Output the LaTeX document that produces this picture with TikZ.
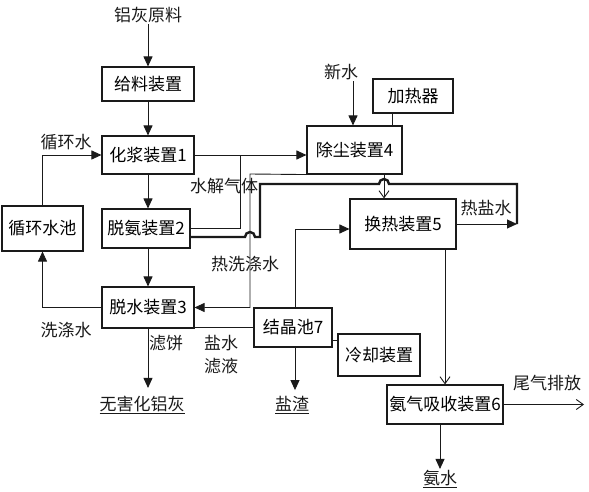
\documentclass[tikz,border=0pt]{standalone}
\usepackage{fontspec}
\setmainfont{Noto Sans CJK SC}
\usepackage{tikz}
\usetikzlibrary{positioning,calc,arrows.meta}
\definecolor{ink}{HTML}{1A1A1A}
\tikzset{
  every node/.style={font=\fontsize{17}{23}\selectfont},
  % --- nodes
  box/.style   = {draw=ink, line width=1.1pt, inner sep=2pt, align=center},
  lbl/.style   = {inner sep=1pt, text=ink, align=center},
  % --- edges
  e/.style     = {-{Triangle[length=10pt,width=9pt]}, line width=0.9pt, draw=ink},
  eopen/.style = {-{Straight Barb[length=7pt,width=10pt]}, line width=0.9pt, draw=ink},
  ethin/.style = {line width=0.9pt, draw=ink},
  ethick/.style= {line width=2.4pt, draw=ink},
}
\begin{document}
\begin{tikzpicture}[x=1pt,y=1pt]
  \useasboundingbox (0,0) rectangle (589,-492);
  % boxes
  \node[box, minimum width=92pt, minimum height=34pt] (feed)    at (148,-84)    {给料装置};
  \node[box, minimum width=92pt, minimum height=38pt] (slurry)  at (148,-155)   {化浆装置1};
  \node[box, minimum width=81pt, minimum height=45pt] (pool)    at (42.5,-228.5){循环水池};
  \node[box, minimum width=88pt, minimum height=39pt] (deamm)   at (146,-228.5) {脱氨装置2};
  \node[box, minimum width=92pt, minimum height=41pt] (dewater) at (148,-307.5) {脱水装置3};
  \node[box, minimum width=95pt, minimum height=48pt] (dust)    at (354.5,-150) {除尘装置4};
  \node[box, minimum width=80pt, minimum height=34pt] (heater)  at (413,-96)    {加热器};
  \node[box, minimum width=106pt,minimum height=50pt] (hex)     at (403,-224)   {换热装置5};
  \node[box, minimum width=78pt, minimum height=39pt] (cryst)   at (293,-327.5) {结晶池7};
  \node[box, minimum width=82pt, minimum height=42pt] (cool)    at (379,-355)   {冷却装置};
  \node[box, minimum width=116pt,minimum height=39pt] (absorb)  at (445,-404.5) {氨气吸收装置6};
  % labels
  \node[lbl] (raw)   at (148,-15)  {铝灰原料};
  \node[lbl] (water) at (341,-72)  {新水};
  \node[lbl] (recyc) at (66,-142)  {循环水};
  \node[lbl] (gas)   at (224,-186) {水解气体};
  \node[lbl] (hwash) at (245,-264) {热洗涤水};
  \node[lbl] (hsalt) at (486,-208) {热盐水};
  \node[lbl] (wash)  at (66,-330)  {洗涤水};
  \node[lbl] (cake)  at (166,-343) {滤饼};
  \node[lbl] (brine) at (221,-355) {盐水\\滤液};
  \node[lbl] (tailg) at (547,-383) {尾气排放};
  \node[lbl] (ash)   at (142,-405) {\underline{无害化铝灰}};
  \node[lbl] (salt)  at (292,-405) {\underline{盐渣}};
  \node[lbl] (aq)    at (440,-479) {\underline{氨水}};
  \coordinate (t1)   at (260,-237);
  \coordinate (t2)   at (260,-184);
  \coordinate (t3)   at (517,-184);
  \coordinate (j1)   at (240,-155);
  \coordinate (k1)   at (250,-174);
  \coordinate (tail) at (584,-404.5);
  % main line
  \draw[e] (raw) -- (feed);
  \draw[e] (feed) -- (slurry);
  \draw[e] (slurry.south) -- (slurry.south |- deamm.north);
  \draw[e] (slurry.south |- deamm.south) -- (dewater.north);
  \draw[e, shorten >=7pt] (dewater.south) -- (dewater.south |- ash.north);
  \draw[e] (pool.north) |- (slurry.west);
  \draw[e] (dewater.west) -| (pool.south);
  % gas and hot water
  \draw[e] (slurry.east) -- (slurry.east -| dust.west);
  \draw[ethin] (deamm.east) -| (j1);
  \draw[e] ([xshift=12pt]water.south) -- ([xshift=12pt]water.south |- dust.north);
  \draw[ethin] ([xshift=-21pt]heater.south) -- ([xshift=-21pt]heater.south |- dust.north);
  \draw[e] (dust.south west) -- (k1) |- (dewater.east);
  \draw[eopen] ([xshift=29.5pt]dust.south) -- ([xshift=29.5pt]dust.south |- hex.north);
  \draw[ethick] (deamm.east |- t1) -- (245,-237) arc[start angle=180,end angle=0,radius=5pt]
    -- (t1) -- (t2) -- (379,-184) arc[start angle=180,end angle=0,radius=5pt] -- (t3) -- (hex.east -| t3);
  \draw[e] (hex.east) -- (hex.east -| t3);
  % salt side
  \draw[e] ([xshift=2pt]cryst.north) |- ([yshift=-5pt]hex.west);
  \draw[ethin] (cryst.west) -- (cryst.west -| dewater.east);
  \draw[ethin] ([yshift=15pt]cool.west) -- ([yshift=15pt]cool.west -| cryst.east);
  \draw[e, shorten >=5pt] ([xshift=2pt]cryst.south) -- ([xshift=2pt]cryst.south |- salt.north);
  \draw[eopen] (absorb.north |- hex.south) -- (absorb.north);
  \draw[e] (absorb.south -| aq) -- (aq);
  \draw[eopen] (absorb.east) -- (tail);
\end{tikzpicture}
\end{document}
